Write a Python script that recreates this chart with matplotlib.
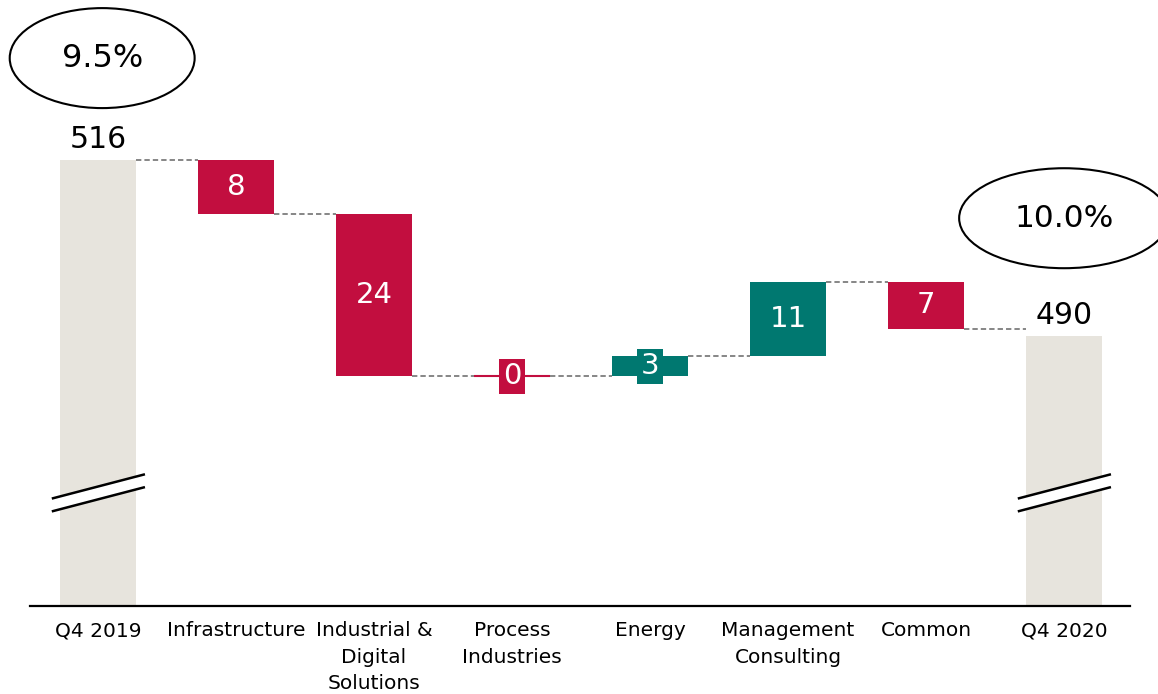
"""Quarterly bridge chart: Q4 2019 -> Q4 2020 by business line."""
import numpy as np
import matplotlib
matplotlib.use('Agg')
import matplotlib.pyplot as plt
from matplotlib.patches import Ellipse, Polygon

plt.rcParams.update({
    'font.family': 'DejaVu Sans',
    'figure.facecolor': 'white',
    'axes.facecolor': 'white',
})

# data
categories = ['Q4 2019', 'Infrastructure', 'Industrial &\nDigital\nSolutions',
              'Process\nIndustries', 'Energy', 'Management\nConsulting',
              'Common', 'Q4 2020']
start_value = 516
end_value = 490
deltas = [-8, -24, 0, 3, 11, -7]
margins = ['9.5%', '10.0%']

RED = '#C20E3F'
TEAL = '#007870'
GREY = '#E7E4DD'
BAR_W = 0.55
Y_MIN = 450

fig = plt.figure(figsize=(11.58, 6.94), dpi=100)
ax = fig.add_axes([30 / 1158, 1 - 606 / 694, 1100 / 1158, 606 / 694])
ax.set_xlim(-0.493, 7.478)
ax.set_ylim(Y_MIN, 539.7)

x = np.arange(len(categories))
last = len(categories) - 1

# totals
ax.bar(x[0], start_value - Y_MIN, bottom=Y_MIN, width=BAR_W, color=GREY, zorder=1)
ax.bar(x[last], end_value - Y_MIN, bottom=Y_MIN, width=BAR_W, color=GREY, zorder=1)
for xi, v in [(x[0], start_value), (x[last], end_value)]:
    ax.annotate(str(v), (xi, v), xytext=(0, 14.5), textcoords='offset points',
                ha='center', va='center', fontsize=21.5, color='black')

# steps
levels = [start_value]
for i, d in enumerate(deltas, start=1):
    prev = levels[-1]
    cur = prev + d
    levels.append(cur)
    col = TEAL if d > 0 else RED
    mid = (prev + cur) / 2
    if d == 0:
        ax.hlines(prev, x[i] - BAR_W / 2, x[i] + BAR_W / 2, color=col, lw=1.5, zorder=2)
    else:
        ax.bar(x[i], abs(d), bottom=min(prev, cur), width=BAR_W, color=col, zorder=2)
    ax.text(x[i], mid, str(abs(d)), ha='center', va='center', fontsize=21,
            color='white', zorder=4,
            bbox=dict(boxstyle='square,pad=0.12', fc=col, ec='none'))

# dashed connectors
for i in range(last):
    ax.hlines(levels[i], x[i] + BAR_W / 2, x[i + 1] - BAR_W / 2,
              color='#666666', lw=1.1, linestyles=(0, (3.5, 2)), zorder=3)

# axis break marks on the total bars
for xi in (x[0], x[last]):
    x0, x1 = xi - 0.335, xi + 0.34
    lo, hi = 465.9, 469.5
    gap = 1.9
    band = Polygon([(x0, lo - gap), (x1, hi - gap), (x1, hi), (x0, lo)],
                   closed=True, fc='white', ec='none', zorder=5, clip_on=False)
    ax.add_patch(band)
    ax.plot([x0, x1], [lo, hi], color='black', lw=1.8, zorder=6,
            solid_capstyle='butt')
    ax.plot([x0, x1], [lo - gap, hi - gap], color='black', lw=1.8, zorder=6,
            solid_capstyle='butt')

# margin bubbles
for xi, y, w, fs, txt in [(x[0] + 0.03, 531.1, 1.34, 23, margins[0]),
                          (x[last], 507.4, 1.52, 22.5, margins[1])]:
    ax.add_patch(Ellipse((xi, y), w, 14.8, fc='white', ec='black', lw=1.5,
                         clip_on=False, zorder=5))
    ax.text(xi, y, txt, ha='center', va='center', fontsize=fs, zorder=6)

ax.set_xticks(x)
ax.set_xticklabels(categories, fontsize=14.5, linespacing=1.5)
ax.tick_params(axis='x', length=0, pad=11)
ax.set_yticks([])
for s in ['top', 'right', 'left']:
    ax.spines[s].set_visible(False)
ax.spines['bottom'].set_linewidth(1.6)

fig.savefig('out.png', dpi=100, facecolor='white')
plt.close(fig)
